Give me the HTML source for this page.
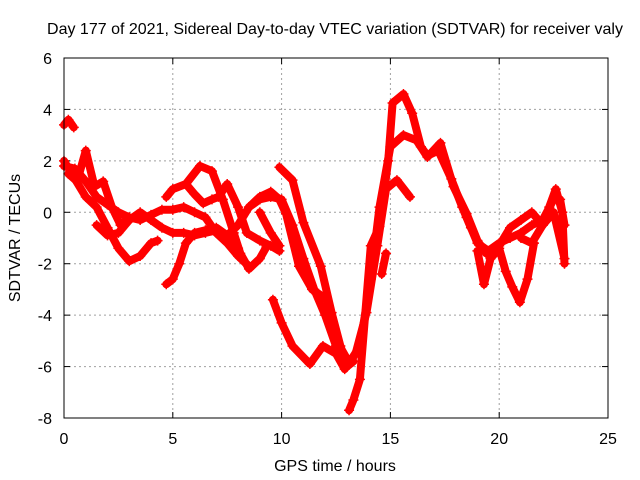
<!DOCTYPE html>
<html><head><meta charset="utf-8"><style>
html,body{margin:0;padding:0;background:#fff}
svg{display:block;font-family:"Liberation Sans",sans-serif}
</style></head><body>
<svg id="chart" width="640" height="480" viewBox="0 0 640 480" xmlns="http://www.w3.org/2000/svg">
<text x="335" y="34" font-size="16" text-anchor="middle">Day 177 of 2021, Sidereal Day-to-day VTEC variation (SDTVAR) for receiver valy</text>
<text transform="translate(20,238) rotate(-90)" font-size="16" text-anchor="middle">SDTVAR / TECUs</text>
<text x="335" y="471" font-size="16" text-anchor="middle">GPS time / hours</text>
<g id="grid"></g>
<g id="ticks"></g>
<g id="series"></g>
<rect x="64" y="58" width="544" height="360" fill="none" stroke="#000" stroke-width="1"/>
</svg>
<script>
const xTicks=[0,5,10,15,20,25];
const yTicks=[-8,-6,-4,-2,0,2,4,6];
const tA=[0,0.2,0.45]; const vA=[3.4,3.6,3.3];
const tB=[0,0.5,1,1.5,2,2.5,3,3.5,4,4.3]; const vB=[2.0,1.3,0.6,0.2,-0.6,-1.4,-1.9,-1.7,-1.2,-1.1];
const tC=[0,0.5,1,1.5,2,2.5,3,3.5,4,4.5,5,5.5,6,6.5,7,7.5,8,8.5]; const vC=[1.8,1.7,1.2,0.6,0.3,0.0,-0.2,-0.3,-0.1,0.1,0.1,0.2,0.0,-0.2,-0.8,-1.2,-1.7,-2.1];
const tD=[0.2,0.6,1.0,1.4,1.8,2.2,2.6,3.0]; const vD=[1.5,1.2,2.4,1.0,1.2,0.2,-0.5,-0.2];
const tE=[1.5,2,2.5,3,3.5,4,4.5,5,5.5,6,6.5,7,7.5,8,8.5,9,9.5,10,10.5,11,11.5,12,12.5,13,13.3]; const vE=[-0.5,-0.9,-0.8,-0.3,0.0,-0.3,-0.6,-0.8,-0.8,-0.9,-0.8,-0.7,-0.9,-0.5,0.2,0.5,0.6,0.5,-0.5,-1.8,-3.0,-4.0,-5.2,-6.0,-5.8];
const tF=[4.7,5.0,5.3,5.6,6.0,6.5,7.0,7.5,8.0]; const vF=[-2.8,-2.6,-2.0,-1.2,-0.8,-0.7,-0.6,-0.9,-1.4];
const tG=[4.7,5.0,5.6,6.25,6.8,7.3,7.8,8.1,8.5,9.0,9.3]; const vG=[0.6,0.9,1.1,1.8,1.6,0.5,-0.8,-1.6,-2.2,-1.8,-1.35];
const tH=[5.6,6.0,6.4,6.8,7.1,7.5,8.0,8.4,9.0,9.5,9.9]; const vH=[1.1,0.7,0.35,0.5,0.6,1.1,0.2,-0.8,-1.1,-1.3,-1.5];
const tI=[8.5,9.0,9.5,9.9,10.2,10.8,11.4,12.1,12.5,13.0]; const vI=[0.2,0.6,0.8,0.5,-0.05,-2.1,-3.0,-3.4,-4.95,-5.7];
const tJ=[9.9,10.5,11.0,11.8,12.3,12.7,13.0,13.6,14.1,14.5,15.0,15.6,16.2,16.7,17.3,17.9,18.5,19.0,19.4]; const vJ=[1.75,1.25,-0.4,-2.1,-3.9,-5.2,-6.0,-5.2,-2.6,0.2,2.55,3.0,2.8,2.15,2.7,1.0,-0.05,-1.1,-1.6];
const tK=[9.6,10.0,10.5,11.3,11.9,12.5,12.9,13.4,13.9,14.4,14.8,15.3,15.9]; const vK=[-3.4,-4.3,-5.2,-5.9,-5.2,-5.5,-6.1,-5.5,-3.9,-1.3,0.9,1.25,0.6];
const tL=[9.0,9.5,9.9]; const vL=[0.0,-0.8,-1.3];
const tM=[13.1,13.3,13.6,14.1,14.5,14.9,15.1,15.6,16.0,16.4,16.7,17.2,17.8,18.3,18.7]; const vM=[-7.7,-7.3,-6.5,-1.3,-0.55,2.0,4.25,4.6,3.85,2.55,2.2,2.4,1.3,0.2,-0.6];
const tN=[14.6,14.8]; const vN=[-2.4,-1.6];
const tR1=[18.5,19,19.5,20,20.5,21,21.5,22,22.5,22.8,23]; const vR1=[-0.2,-1.2,-1.5,-1.2,-1.0,-0.8,-0.5,-0.3,0.5,0.5,-0.5];
const tR2=[19.0,19.3,19.6,20.0,20.3,20.6,20.95,21.3,21.6]; const vR2=[-1.5,-2.8,-1.8,-1.4,-2.3,-2.9,-3.5,-2.6,-1.2];
const tR3=[20,20.5,21,21.5,22,22.5,23]; const vR3=[-1.3,-0.6,-0.3,0.0,-0.5,0.0,-1.8];
const tR4=[21,21.5,22,22.3,22.6,22.9,23]; const vR4=[-1.0,-1.2,-0.5,0.2,0.9,0.0,-2.0];
const tracks=[[tA,vA],[tB,vB],[tC,vC],[tD,vD],[tE,vE],[tF,vF],[tG,vG],[tH,vH],[tI,vI],[tJ,vJ],[tK,vK],[tL,vL],[tM,vM],[tN,vN],[tR1,vR1],[tR2,vR2],[tR3,vR3],[tR4,vR4]];
const X0=64,X1=608,Y0=418,Y1=58;
function xs(t){return X0+(t-0)/(25-0)*(X1-X0);}
function ys(v){return Y0-(v+8)/(14)*(Y0-Y1);}
const NS="http://www.w3.org/2000/svg";
const grid=document.getElementById('grid'),ticks=document.getElementById('ticks'),ser=document.getElementById('series');
function mk(tag,attrs,parent){const e=document.createElementNS(NS,tag);for(const k in attrs)e.setAttribute(k,attrs[k]);parent.appendChild(e);return e;}
xTicks.forEach(t=>{
  const x=xs(t);
  if(t>0&&t<25){const g=mk('line',{x1:x,x2:x,y1:Y1,y2:Y0,stroke:'#a0a0a0','stroke-dasharray':'2,3'},grid);
  
  }
  const tk=mk('line',{x1:x,x2:x,y1:Y0,y2:Y0-6,stroke:'#000'},grid);
  
  
  const tk2=mk('line',{x1:x,x2:x,y1:Y1,y2:Y1+6,stroke:'#000'},grid);
  
  
  const l=mk('text',{x:x,y:444,'font-size':16,'text-anchor':'middle'},ticks);l.textContent=t;
  
  
});
yTicks.forEach(v=>{
  const y=ys(v);
  if(v>-8&&v<6){const g=mk('line',{x1:X0,x2:X1,y1:y,y2:y,stroke:'#a0a0a0','stroke-dasharray':'2,3'},grid);
  
  }
  const tk=mk('line',{x1:X0,x2:X0+6,y1:y,y2:y,stroke:'#000'},grid);
  
  
  const tk2=mk('line',{x1:X1,x2:X1-6,y1:y,y2:y,stroke:'#000'},grid);
  
  
  const l=mk('text',{x:52,y:y+6,'font-size':16,'text-anchor':'end'},ticks);l.textContent=v;
  
  
});
tracks.forEach((tr,i)=>{
  const [ts,vs]=tr;
  const pts=ts.map((t,j)=>xs(t).toFixed(1)+','+ys(vs[j]).toFixed(1)).join(' ');
  const p=mk('polyline',{points:pts,fill:'none',stroke:'#ff0000','stroke-width':8,'stroke-linejoin':'round','stroke-linecap':'round'},ser);
  
  
  ts.forEach((t,j)=>{
    const x=xs(t),y=ys(vs[j]);
    const m=mk('path',{d:`M${x-5},${y}H${x+5}M${x},${y-5}V${y+5}`,stroke:'#ff0000','stroke-width':1.5},ser);
    
    
  });
});
</script>
</body></html>
